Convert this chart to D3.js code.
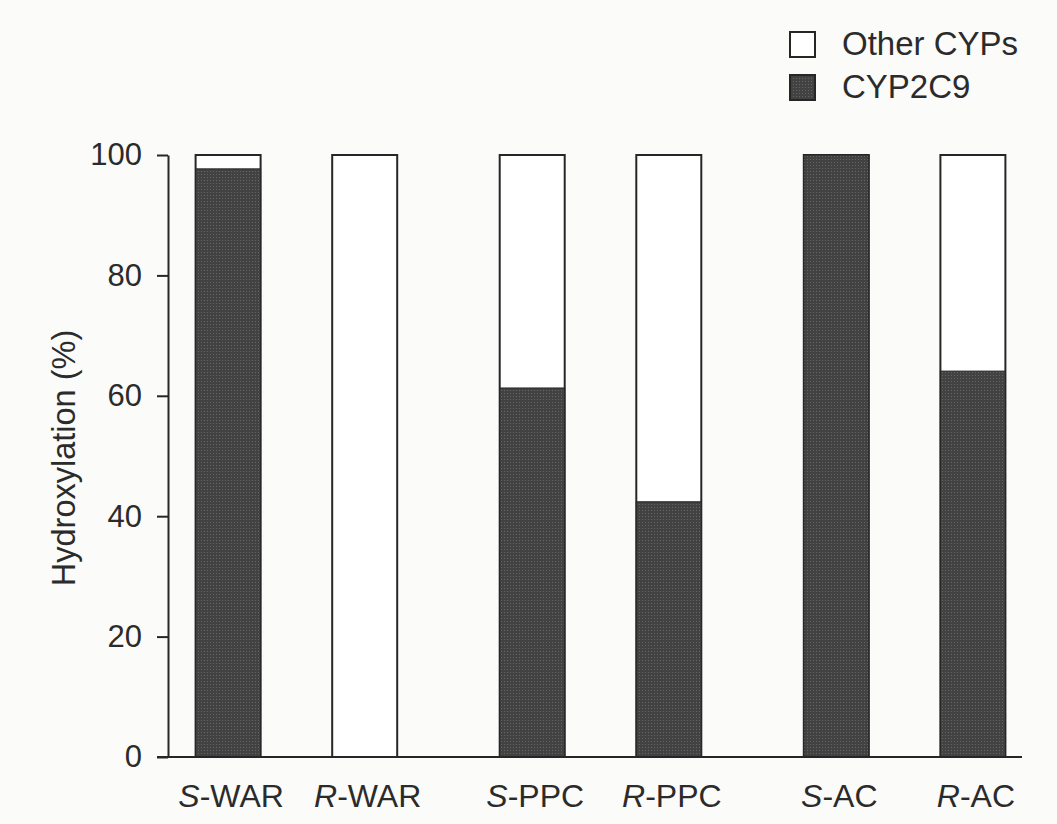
<!DOCTYPE html>
<html>
<head>
<meta charset="utf-8">
<script src="https://cdn.jsdelivr.net/npm/d3@7"></script>
<style>
  html, body { margin: 0; padding: 0; background: #fbfbf9; }
  svg { display: block; }
  text { font-family: "Liberation Sans", Arial, Helvetica, sans-serif; fill: #2b2b2b; }
</style>
</head>
<body>
<div id="chart"></div>
<script>
const drugs = ["WAR", "PPC", "AC"];
const isomers = ["S", "R"];
const cyp2c9 = [97.7, 0, 61.3, 42.4, 100, 64.1];
const otherCyps = [2.3, 100, 38.7, 57.6, 0, 35.9];
const yTicks = [0, 20, 40, 60, 80, 100];
const legendLabels = ["Other CYPs", "CYP2C9"];

// one row per bar, built from the arrays above
const rows = [];
drugs.forEach((drug, g) => {
  isomers.forEach((iso, k) => {
    const i = g * isomers.length + k;
    rows.push({ drug, iso, cyp: cyp2c9[i], other: otherCyps[i] });
  });
});

const width = 1057, height = 824;
const axisX = 168, baseY = 757, topY = 155;
const barW = 65;
const ink = "#262626";
const darkFill = "#424242";

const svg = d3
  .select("#chart")
  .append("svg")
  .attr("width", width)
  .attr("height", height);

// stipple for the dark segments, like the printed screen
const pat = svg
  .append("defs")
  .append("pattern")
  .attr("id", "dots")
  .attr("width", 3)
  .attr("height", 3)
  .attr("patternUnits", "userSpaceOnUse");
pat.append("rect").attr("width", 3).attr("height", 3).attr("fill", darkFill);
pat.append("rect").attr("width", 1).attr("height", 1).attr("fill", "#666666");

const y = d3.scaleLinear().domain([0, 100]).range([baseY, topY]);
const xGroup = d3.scaleBand().domain(drugs).range([144.4, 1056.7]);
const xIso = d3.scalePoint().domain(isomers).range([83.7, 220.3]);
const cx = (d) => xGroup(d.drug) + xIso(d.iso);

// y axis
const yAxis = svg
  .append("g")
  .attr("transform", `translate(${axisX},0)`)
  .call(
    d3.axisLeft(y).tickValues(yTicks).tickSize(11).tickSizeOuter(0).tickPadding(15)
  );
yAxis.select(".domain").attr("stroke", ink).attr("stroke-width", 2);
yAxis.selectAll(".tick line").attr("stroke", ink).attr("stroke-width", 2);
yAxis
  .selectAll(".tick text")
  .attr("font-size", 31)
  .attr("fill", "#2b2b2b")
  .style("font-family", '"Liberation Sans", Arial, sans-serif');

// y title
svg
  .append("text")
  .attr("transform", `translate(75,${(y(0) + y(100)) / 2 + 2}) rotate(-90)`)
  .attr("text-anchor", "middle")
  .attr("font-size", 32.5)
  .text("Hydroxylation (%)");

// bars: dark CYP2C9 part at the bottom, white "other" part on top
const bars = svg.append("g").selectAll("g").data(rows).enter().append("g");

bars
  .append("rect")
  .attr("x", (d) => cx(d) - barW / 2)
  .attr("y", (d) => y(d.cyp + d.other))
  .attr("width", barW)
  .attr("height", (d) => y(0) - y(d.cyp + d.other))
  .attr("fill", "#ffffff")
  .attr("stroke", ink)
  .attr("stroke-width", 2);

bars
  .filter((d) => d.cyp > 0)
  .append("rect")
  .attr("x", (d) => cx(d) - barW / 2)
  .attr("y", (d) => y(d.cyp))
  .attr("width", barW)
  .attr("height", (d) => y(0) - y(d.cyp))
  .attr("fill", "url(#dots)")
  .attr("stroke", ink)
  .attr("stroke-width", 1);

// x axis line
svg
  .append("line")
  .attr("x1", axisX - 11)
  .attr("x2", 1022)
  .attr("y1", y(0))
  .attr("y2", y(0))
  .attr("stroke", ink)
  .attr("stroke-width", 2);

// category labels with italic S / R
const labels = svg
  .append("g")
  .selectAll("text")
  .data(rows)
  .enter()
  .append("text")
  .attr("x", (d) => cx(d) + 3)
  .attr("y", 807)
  .attr("text-anchor", "middle")
  .attr("font-size", 32);
labels.append("tspan").attr("font-style", "italic").text((d) => d.iso);
labels.append("tspan").text((d) => "-" + d.drug);

// legend
const legend = svg
  .append("g")
  .selectAll("g")
  .data(legendLabels)
  .enter()
  .append("g")
  .attr("transform", (d, i) => `translate(790,${32 + i * 43})`);
legend
  .append("rect")
  .attr("width", 25)
  .attr("height", 25)
  .attr("fill", (d, i) => (i === 0 ? "#ffffff" : "url(#dots)"))
  .attr("stroke", ink)
  .attr("stroke-width", 2);
legend
  .append("text")
  .attr("x", 52)
  .attr("y", 23)
  .attr("font-size", 33)
  .text((d) => d);
</script>
</body>
</html>
